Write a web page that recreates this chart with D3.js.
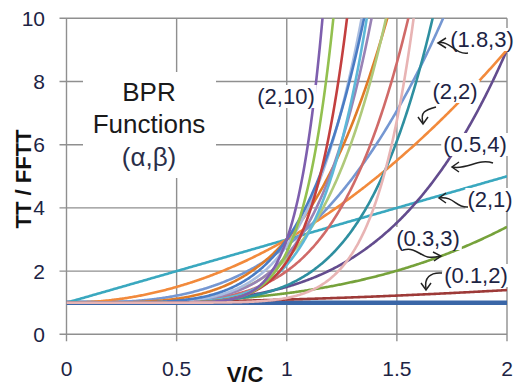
<!DOCTYPE html>
<html><head><meta charset="utf-8">
<script src="https://cdn.jsdelivr.net/npm/d3@7"></script>
<style>body{margin:0;background:#fff} svg{display:block}</style>
</head><body><svg id="c" width="515" height="387"></svg>
<script>
// ---- data (BPR parameters) ----
const seriesNames = ["flat","(0.1,2)","(0.3,3)","(2,1)","(0.5,4)","(2,2)","(1.8,3)",
  "(0.55,5.5)","(1,5)","(2,4)","(1.4,5)","(1.5,5.5)","(1.2,6.5)","(1.8,5.5)","(2,5)","(1.3,8)","(1.6,9)","(2,10)","(0.15,9)"];
const alphas = [0, 0.1, 0.3, 2, 0.5, 2, 1.8, 0.55, 1, 2, 1.4, 1.5, 1.2, 1.8, 2, 1.3, 1.6, 2, 0.15];
const betas  = [1, 2,   3,   1, 4,   2, 3,   5.5,  5, 4, 5,   5.5, 6.5, 5.5, 5, 8,   9,   10, 9];
const xTicks = [0, 0.5, 1, 1.5, 2];
const xTickLabels = ["0", "0.5", "1", "1.5", "2"];
const yTicks = [0, 2, 4, 6, 8, 10];
const yTickLabels = ["0", "2", "4", "6", "8", "10"];
const annotations = ["(2,10)", "(1.8,3)", "(2,2)", "(0.5,4)", "(2,1)", "(0.3,3)", "(0.1,2)"];
const titleLines = ["BPR", "Functions", "(\u03B1,\u03B2)"];

// ---- styles (kept separate) ----
const colors = ["#3A66A7","#9E3A38","#76A23B","#3AA8BF","#634C8E","#F28A3C","#7597D2",
  "#2E8FA0","#D06A68","#E07B28","#AFC97A","#9983B5","#5DB8D8","#A9BDE0","#4A7CC4","#C33F3F","#93C04F","#7E5FAE","#E8B4B4"];
const widths = colors.map((c,i)=> i===0 ? 4.5 : 2.6);
const annoPos = [[286,104],[482,47],[455,99],[475,152],[490,207],[428,246],[476,283]];
const arrows = [
  "M468,53 C455,55 450,40 438,43",
  "M436,107 C425,110 420,112 423,123",
  "M493,163 C478,158 468,170 452,167",
  "M468,207 C455,208 455,196 439,198",
  "M403,250 C420,246 420,262 440,256",
  "M442,273 C430,272 424,278 426,289"
];
const arrowHeads = [
  "M446,38 L438,43 L446,48",
  "M418,117 L423,124 L428,117",
  "M459,162 L452,167 L459,172",
  "M446,193 L439,198 L446,203",
  "M433,252 L441,256 L434,261",
  "M421,283 L426,290 L431,283"
];

const svg = d3.select("#c");
const x = d3.scaleLinear().domain([0,2]).range([66.5,507]);
const y = d3.scaleLinear().domain([0,10]).range([334.3,18.3]);
const gridColor = "#8f8f8f";
const font = "'Liberation Sans', Arial, sans-serif";
const textColor = "#1d2444";

// grid
svg.append("g").selectAll("line").data(yTicks).join("line")
  .attr("x1", x(0)-7).attr("x2", x(2)).attr("y1", d=>y(d)).attr("y2", d=>y(d))
  .attr("stroke", gridColor).attr("stroke-width", 1.4);
svg.append("g").selectAll("line").data(xTicks).join("line")
  .attr("x1", d=>x(d)).attr("x2", d=>x(d)).attr("y1", y(10)).attr("y2", y(0)+7)
  .attr("stroke", gridColor).attr("stroke-width", 1.4);

// tick labels
svg.append("g").selectAll("text").data(yTicks).join("text")
  .attr("x", 45).attr("y", d=>y(d)).attr("dy","0.36em").attr("text-anchor","end")
  .attr("font-family", font).attr("font-size", 21).attr("fill", textColor)
  .text((d,i)=>yTickLabels[i]);
svg.append("g").selectAll("text").data(xTicks).join("text")
  .attr("x", d=>x(d)).attr("y", 376).attr("text-anchor","middle")
  .attr("font-family", font).attr("font-size", 21).attr("fill", textColor)
  .text((d,i)=>xTickLabels[i]);

// axis titles
svg.append("text").attr("x", 245).attr("y", 382).attr("text-anchor","middle")
  .attr("font-family", font).attr("font-size", 22).attr("font-weight","bold").attr("fill","#111")
  .text("V/C");
svg.append("text").attr("transform","translate(31,179) rotate(-90)").attr("text-anchor","middle")
  .attr("font-family", font).attr("font-size", 22).attr("font-weight","bold").attr("fill","#111")
  .text("TT / FFTT");

// curves
svg.append("defs").append("clipPath").attr("id","clip").append("rect")
  .attr("x", x(0)).attr("y", y(10)).attr("width", x(2)-x(0)).attr("height", y(0)-y(10));
const xs = d3.range(0, 2.0001, 0.005);
const line = d3.line().x(d=>x(d[0])).y(d=>y(d[1]));
const gCurves = svg.append("g").attr("clip-path","url(#clip)");
seriesNames.forEach((name,i)=>{
  const pts = xs.map(v=>[v, Math.min(12, 1 + alphas[i]*Math.pow(v, betas[i]))]);
  gCurves.append("path").datum(pts).attr("d", line).attr("fill","none")
    .attr("stroke", colors[i]).attr("stroke-width", widths[i]).attr("stroke-linejoin","round");
});

// title box
const tb = svg.append("g");
tb.append("rect").attr("x", 83).attr("y", 72).attr("width", 133).attr("height", 106).attr("fill","#fff");
titleLines.forEach((t,i)=>{
  tb.append("text").attr("x", 149).attr("y", [101,133,166][i]).attr("text-anchor","middle")
    .attr("font-family", font).attr("font-size", 26).attr("fill", i===2 ? "#2a2f4a" : "#1a1a1a").text(t);
});

// annotations with white boxes
const ga = svg.append("g");
annotations.forEach((t,i)=>{
  const g = ga.append("g");
  const tx = g.append("text").attr("x", annoPos[i][0]).attr("y", annoPos[i][1]).attr("text-anchor","middle")
    .attr("font-family", font).attr("font-size", 22).attr("fill", textColor).text(t);
  const bb = tx.node().getBBox();
  g.insert("rect","text").attr("x", bb.x-2).attr("y", bb.y+1).attr("width", bb.width+4).attr("height", bb.height-2).attr("fill","#fff");
});
ga.selectAll("path.arr").data(arrows).join("path").attr("class","arr").attr("d", d=>d)
  .attr("fill","none").attr("stroke","#222").attr("stroke-width",1.5);
ga.selectAll("path.head").data(arrowHeads).join("path").attr("class","head").attr("d", d=>d)
  .attr("fill","none").attr("stroke","#222").attr("stroke-width",1.5);
</script></body></html>
